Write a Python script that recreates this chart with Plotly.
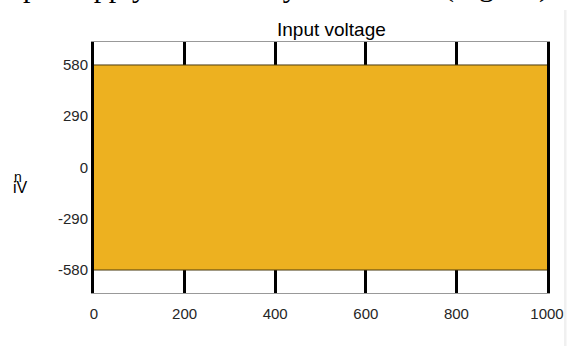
import plotly.graph_objects as go

# Envelope of the (densely oscillating) input voltage waveform
time_ms = [0, 1000]
v_upper = [580, 580]
v_lower = [-580, -580]

x_ticks = [0, 200, 400, 600, 800, 1000]
y_ticks = [-580, -290, 0, 290, 580]

title_text = "Input voltage"
page_words = ["Input", "supply is shown by the model", "(Fig. 12)"]
page_word_x = [-4, 65, 442]   # pixel start of each text fragment

fill_col = "#EDB120"
W, H = 567, 347
ML, MR, MT, MB = 94, 20, 42, 54
PW, PH = W - ML - MR, H - MT - MB

fig = go.Figure()
fig.add_trace(go.Scatter(x=time_ms, y=v_lower, mode="lines",
                         line=dict(color="#4a3a10", width=1), showlegend=False,
                         hoverinfo="skip"))
fig.add_trace(go.Scatter(x=time_ms, y=v_upper, mode="lines", fill="tonexty",
                         fillcolor=fill_col, line=dict(color="#4a3a10", width=1),
                         showlegend=False, hoverinfo="skip"))

annotations = [
    dict(text=title_text, xref="paper", yref="paper", x=(331 - ML) / PW, y=1.0,
         xanchor="center", yanchor="bottom", showarrow=False,
         font=dict(size=19, color="black")),
    dict(text="iV", xref="paper", yref="paper", x=(20 - ML) / PW, y=(H - MB - 188) / PH,
         xanchor="center", yanchor="middle", showarrow=False,
         font=dict(size=16, color="black")),
    dict(text="n", xref="paper", yref="paper", x=(18 - ML) / PW, y=(H - MB - 177) / PH,
         xanchor="center", yanchor="middle", showarrow=False,
         font=dict(size=14, color="black")),
]
for word, px in zip(page_words, page_word_x):
    annotations.append(dict(
        text=word, xref="paper", yref="paper", x=(px - ML) / PW, y=1.0,
        xanchor="left", yanchor="bottom", yshift=MT - 5, showarrow=False,
        font=dict(size=30, color="black",
                  family="Liberation Serif, Times New Roman, serif")))

fig.update_layout(
    width=W, height=H,
    margin=dict(l=ML, r=MR, t=MT, b=MB, autoexpand=False),
    paper_bgcolor="white", plot_bgcolor="white",
    font=dict(family="Liberation Sans, Arial, sans-serif", color="#262626", size=15),
    xaxis=dict(range=[0, 1000], tickvals=x_ticks, ticktext=[str(v) for v in x_ticks],
               showgrid=False, zeroline=False, showline=True, linecolor="#999999",
               linewidth=1, mirror="allticks", ticks="inside", ticklen=23,
               tickwidth=3, tickcolor="black", layer="below traces", automargin=False,
               ticklabelstandoff=7, tickfont=dict(size=15, color="#262626")),
    yaxis=dict(range=[-710, 710], tickvals=y_ticks, ticktext=[str(v) for v in y_ticks],
               showgrid=False, zeroline=False, showline=True, linecolor="black",
               linewidth=3, mirror=True, ticks="", layer="below traces", automargin=False,
               tickfont=dict(size=15, color="#262626")),
    annotations=annotations,
    shapes=[
        dict(type="rect", xref="paper", yref="paper", x0=(564 - ML) / PW, x1=(566.5 - ML) / PW,
             y0=(H - MB - 346) / PH, y1=(H - MB - 10) / PH, fillcolor="#f0f0f0",
             line=dict(width=0), layer="above"),
    ],
)

fig.write_html("out.html")
